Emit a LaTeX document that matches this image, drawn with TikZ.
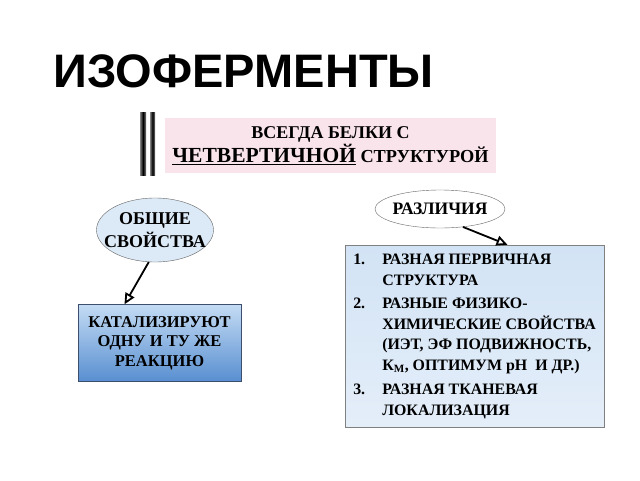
\documentclass[tikz,border=0pt]{standalone}
\usepackage{fontspec}
\setmainfont{Liberation Serif}
\newfontfamily\titlefont{Liberation Sans}
\usetikzlibrary{positioning,arrows.meta,calc,shapes.geometric}
\definecolor{pinkbg}{RGB}{250,228,236}
\definecolor{ovalblue}{RGB}{220,233,246}
\definecolor{katlight}{RGB}{196,220,244}
\definecolor{katdark}{RGB}{88,142,208}
\definecolor{katline}{RGB}{60,80,110}
\definecolor{listtop}{RGB}{210,227,245}
\definecolor{listbot}{RGB}{228,238,249}
\tikzset{oval/.style={draw=gray!80!black, ellipse, inner xsep=-12pt, inner ysep=0pt,
        font=\bfseries\fontsize{18}{23}\selectfont, align=center},
    arr/.style={-{Triangle[open,length=11pt,width=10pt]}, line width=1.8pt},
    bar/.style={left color=gray, right color=gray, middle color=black}
}

\begin{document}
\begin{tikzpicture}[x=1pt,y=-1pt]
	\useasboundingbox[fill=white] (0,0) rectangle (640,480);
	\node[font=\titlefont\bfseries\fontsize{47}{54}\selectfont] (title) at (243.5,71) {ИЗОФЕРМЕНТЫ};
	% double bar
	\shade[bar] (140,112) rectangle (146,175);
	\shade[bar] (150,112) rectangle (155,175);
	\node[fill=pinkbg, minimum width=331pt, minimum height=55pt, align=center,
	      font=\bfseries\fontsize{18}{24}\selectfont] (quat) at (330.5,145.5)
	      {ВСЕГДА БЕЛКИ С\\{\fontsize{21.5}{24}\selectfont\underline{ЧЕТВЕРТИЧНОЙ}} {\fontsize{18.3}{24}\selectfont СТРУКТУРОЙ}};
	\node[oval, fill=ovalblue, minimum width=117pt, minimum height=64pt] (common) at (155,230) {ОБЩИЕ\\СВОЙСТВА};
	\node[oval, fill=white, minimum width=130pt, minimum height=38pt, font=\bfseries\fontsize{17.5}{21}\selectfont] (diff) at (440,209) {РАЗЛИЧИЯ};
	\node[draw=katline, top color=katlight, bottom color=katdark, minimum width=163pt, minimum height=77pt,
	      align=center, font=\bfseries\fontsize{16.5}{19.5}\selectfont] (cat) at (159.5,343)
	      {КАТАЛИЗИРУЮТ\\ОДНУ И ТУ ЖЕ\\РЕАКЦИЮ};
	\node[draw=gray, top color=listtop, bottom color=listbot, minimum width=259pt, minimum height=182pt,
	      font=\bfseries\fontsize{15.9}{20.5}\selectfont] (list) at (474.5,336)
	      {\begin{tabular}{@{}p{29pt}@{}l@{}}
	       1. & РАЗНАЯ ПЕРВИЧНАЯ\\
	          & СТРУКТУРА\\[3pt]
	       2. & РАЗНЫЕ ФИЗИКО-\\
	          & ХИМИЧЕСКИЕ СВОЙСТВА\\
	          & (ИЭТ, ЭФ ПОДВИЖНОСТЬ,\\
	          & К\textsubscript{М}, ОПТИМУМ pH\ \ И ДР.)\\[4pt]
	       3. & РАЗНАЯ ТКАНЕВАЯ\\
	          & ЛОКАЛИЗАЦИЯ
	       \end{tabular}};
	\draw[arr] (common.259) -- ($(cat.north)+(-35,0)$);
	\draw[arr] (diff.-38) -- ($(list.north)+(33,0)$);
\end{tikzpicture}
\end{document}
